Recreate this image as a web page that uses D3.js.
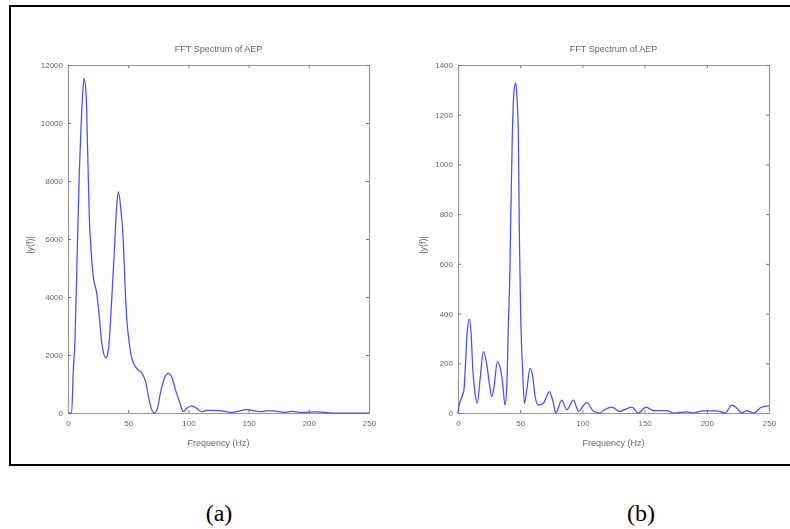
<!DOCTYPE html>
<html>
<head>
<meta charset="utf-8">
<script src="https://cdn.jsdelivr.net/npm/d3@7"></script>
<style>
  html, body { margin: 0; padding: 0; background: #fff; }
  svg { display: block; }
  .tick text { font-family: "Liberation Sans", Arial, sans-serif; }
</style>
</head>
<body>
<script>
// Spectrum (a): frequency (Hz) and |y(f)| magnitude
const freqA = [0, 3, 4.4, 5.8, 7.7, 9.4, 10.8, 11.9, 13.3, 15, 16.3, 17.7, 19.1, 21, 23.8, 26, 28, 31.6, 33.5, 36.3, 38.5, 40.4, 41.8, 43.7, 46, 47.3, 48.7, 50.9, 52.9, 57, 61.2, 64.5, 67.3, 70.3, 72, 74.2, 77, 80.6, 83.3, 86.1, 88.9, 93, 95.8, 98.6, 102.7, 106.9, 111, 115.1, 126, 137, 148.4, 159.5, 165, 170, 180, 186, 193.6, 206, 220, 250];
const magA  = [0, 0, 1480, 2520, 5620, 8280, 9870, 10790, 11540, 11030, 9070, 6770, 5620, 4700, 4140, 3320, 2410, 1900, 2170, 3900, 5620, 7110, 7630, 7110, 5860, 4480, 3320, 2410, 1900, 1540, 1380, 1080, 450, 45, 0, 160, 735, 1250, 1370, 1250, 850, 334, 45, 160, 250, 160, 40, 90, 80, 20, 120, 50, 70, 70, 20, 60, 20, 40, 0, 0];

// Spectrum (b)
const freqB = [0, 0.5, 3.7, 4.8, 5.9, 7.5, 9.1, 10.5, 11.8, 13.7, 15.5, 17.7, 20.4, 23, 25.2, 27.1, 29, 31.6, 34.3, 35.9, 37.8, 39.2, 40.5, 41.8, 42.4, 43.7, 45.1, 46.4, 47.2, 48.5, 49.3, 50.4, 51.8, 53.4, 55.3, 57.9, 60.1, 62, 64.6, 68.6, 73.5, 76.7, 78.6, 83.4, 87.4, 92.8, 96.8, 103.5, 108.9, 114, 116.9, 123.6, 130, 139.7, 145, 151.2, 157, 168, 173, 184, 189, 197, 208, 214.8, 220, 224, 228, 232, 237.6, 244, 250];
const magB  = [0, 19, 72, 93, 186, 334, 378, 322, 186, 79, 39, 133, 247, 200, 119, 66, 106, 206, 173, 119, 32, 106, 361, 589, 790, 1125, 1300, 1328, 1286, 1126, 724, 388, 186, 39, 93, 180, 146, 66, 32, 39, 86, 39, 0, 52, 13, 52, 7, 42, 7, 0, 10, 24, 7, 24, 0, 24, 10, 10, 0, 5, 0, 9, 9, 0, 32, 20, 0, 9, 0, 24, 29];

// Axis ticks
const xTicks  = [0, 50, 100, 150, 200, 250];
const yTicksA = [0, 2000, 4000, 6000, 8000, 10000, 12000];
const yTicksB = [0, 200, 400, 600, 800, 1000, 1200, 1400];

const panelTitle = "FFT Spectrum of AEP";
const xLabel = "Frequency (Hz)";
const yLabel = "|y(f)|";
const captions = ["(a)", "(b)"];

const W = 790, H = 529;
const svg = d3.select("body").append("svg").attr("width", W).attr("height", H);

// slight softening of the plotted figures
const defs = svg.append("defs");
defs.append("filter").attr("id", "soft")
  .append("feGaussianBlur").attr("stdDeviation", 0.55);

// frame around both figures
svg.append("rect")
  .attr("x", 10).attr("y", 6)
  .attr("width", 790).attr("height", 459)
  .attr("fill", "none").attr("stroke", "#000").attr("stroke-width", 2);

const panels = [
  { x0: 68, x1: 369, freq: freqA, mag: magA, yMax: 12000, yTicks: yTicksA, yLabelX: 30, caption: captions[0], capX: 219 },
  { x0: 458, x1: 769, freq: freqB, mag: magB, yMax: 1400, yTicks: yTicksB, yLabelX: 423, caption: captions[1], capX: 641 }
];
const plotTop = 65, plotBottom = 413;
const axisColor = "#9a9a9a", textColor = "#66667a";

panels.forEach(p => {
  const g = svg.append("g").attr("filter", "url(#soft)");
  const x = d3.scaleLinear().domain([0, 250]).range([p.x0, p.x1]);
  const y = d3.scaleLinear().domain([0, p.yMax]).range([plotBottom, plotTop]);

  const styleAxis = sel => {
    sel.selectAll("path.domain").attr("stroke", axisColor).attr("stroke-width", 1.2);
    sel.selectAll(".tick line").attr("stroke", "#777");
    sel.selectAll(".tick text").attr("fill", textColor).attr("font-size", 8);
  };

  g.append("g").attr("transform", `translate(0,${plotBottom})`)
    .call(d3.axisBottom(x).tickValues(xTicks).tickSizeInner(-3).tickSizeOuter(0).tickPadding(7).tickFormat(d3.format("d")))
    .call(styleAxis);
  g.append("g").attr("transform", `translate(0,${plotTop})`)
    .call(d3.axisTop(x).tickValues(xTicks).tickSizeInner(-3).tickSizeOuter(0).tickFormat(""))
    .call(styleAxis);
  g.append("g").attr("transform", `translate(${p.x0},0)`)
    .call(d3.axisLeft(y).tickValues(p.yTicks).tickSizeInner(-3).tickSizeOuter(0).tickPadding(5).tickFormat(d3.format("d")))
    .call(styleAxis);
  g.append("g").attr("transform", `translate(${p.x1},0)`)
    .call(d3.axisRight(y).tickValues(p.yTicks).tickSizeInner(-3).tickSizeOuter(0).tickFormat(""))
    .call(styleAxis);

  const line = d3.line()
    .x((d, i) => x(p.freq[i]))
    .y(d => y(d))
    .curve(d3.curveMonotoneX);
  g.append("path")
    .attr("d", line(p.mag))
    .attr("fill", "none")
    .attr("stroke", "#4c4cff")
    .attr("stroke-width", 1.25);

  const cx = (p.x0 + p.x1) / 2;
  g.append("text")
    .attr("x", cx).attr("y", 52)
    .attr("text-anchor", "middle")
    .attr("font-family", "Liberation Sans, Arial, sans-serif")
    .attr("font-size", 9).attr("fill", textColor)
    .text(panelTitle);
  g.append("text")
    .attr("x", cx).attr("y", 446)
    .attr("text-anchor", "middle")
    .attr("font-family", "Liberation Sans, Arial, sans-serif")
    .attr("font-size", 9).attr("fill", textColor)
    .text(xLabel);
  g.append("text")
    .attr("transform", `translate(${p.yLabelX + 3},${(plotTop + plotBottom) / 2 + 6}) rotate(-90)`)
    .attr("text-anchor", "middle")
    .attr("font-family", "Liberation Sans, Arial, sans-serif")
    .attr("font-size", 9).attr("fill", textColor)
    .text(yLabel);

  svg.append("text")
    .attr("x", p.capX).attr("y", 521)
    .attr("text-anchor", "middle")
    .attr("font-family", "Liberation Serif, Times New Roman, serif")
    .attr("font-size", 24).attr("fill", "#000")
    .text(p.caption);
});
</script>
</body>
</html>
